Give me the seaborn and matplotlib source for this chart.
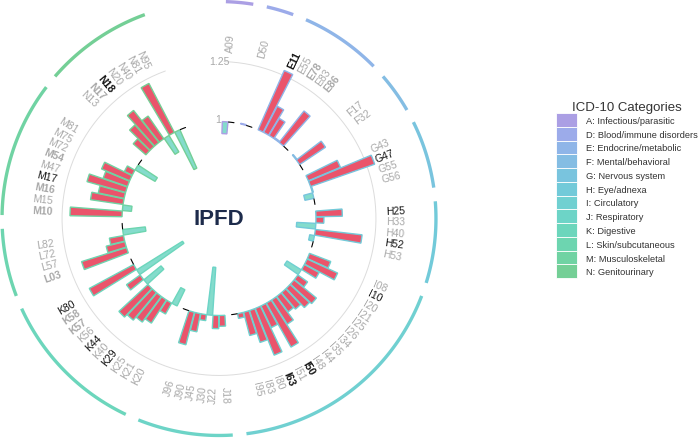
import numpy as np
import matplotlib
matplotlib.use("Agg")
import matplotlib.pyplot as plt
import seaborn as sns
from matplotlib.patches import Patch

sns.set_theme(style="white")
plt.rcParams['font.family'] = ['Liberation Sans', 'DejaVu Sans']

# ---------------- data ----------------
categories = ["A", "D", "E", "F", "G", "H", "I", "J", "K", "L", "M", "N"]
category_names = ["A: Infectious/parasitic", "D: Blood/immune disorders",
                  "E: Endocrine/metabolic", "F: Mental/behavioral",
                  "G: Nervous system", "H: Eye/adnexa", "I: Circulatory",
                  "J: Respiratory", "K: Digestive", "L: Skin/subcutaneous",
                  "M: Musculoskeletal", "N: Genitourinary"]
category_colors = ["#ab9fe4", "#9cabea", "#8fb5e8", "#84bde3", "#79c4de",
                   "#72cad9", "#70d0d1", "#6dd4c7", "#6cd6bc", "#6dd5b0",
                   "#70d3a3", "#74cf96"]

codes = ["A09", "D50",
         "E11", "E55", "E78", "E83", "E86",
         "F17", "F32",
         "G43", "G47", "G55", "G56",
         "H25", "H33", "H40", "H52", "H53",
         "I08", "I10", "I20", "I21", "I25", "I26", "I34", "I35", "I44", "I48",
         "I50", "I51", "I63", "I80", "I83", "I95",
         "J18", "J22", "J30", "J45", "J90", "J96",
         "K20", "K21", "K25", "K29", "K40", "K44", "K56", "K57", "K58", "K80",
         "L03", "L57", "L72", "L82",
         "M10", "M15", "M16", "M17", "M47", "M54", "M72", "M75", "M81",
         "N13", "N17", "N18", "N20", "N40", "N81", "N95"]
values = [0.95, 1.003,
          1.27, 1.123, 1.083, 1.005, 1.167,
          1.004, 1.13,
          1.145, 1.283, 1.004, 0.962,
          1.11, 1.033, 0.92, 1.196, 0.98,
          1.095, 1.14, 1.07, 0.93, 1.05, 1.12, 1.11, 1.09, 1.08, 1.12,
          1.21, 1.10, 1.21, 1.14, 1.10, 1.02,
          1.045, 1.055, 0.80, 1.025, 1.077, 1.14,
          0.925, 1.052, 1.115, 1.133, 1.15, 1.165, 0.908, 1.07, 0.775, 1.21,
          1.196, 1.08, 1.06, 0.905,
          1.217, 0.962, 1.137, 1.11, 1.167, 1.107, 1.127, 1.036, 0.904,
          1.07, 1.12, 1.17, 1.115, 0.92, 1.23, 0.825]
# label emphasis: 0 grey, 1 grey bold, 2 black, 3 black bold
emphasis = [0, 0,
            3, 0, 1, 0, 1,
            0, 0,
            0, 2, 0, 0,
            2, 0, 0, 2, 0,
            0, 2, 0, 0, 0, 0, 0, 0, 0, 0,
            3, 0, 3, 0, 0, 0,
            0, 0, 0, 0, 0, 0,
            0, 0, 0, 2, 0, 2, 0, 1, 1, 2,
            1, 0, 0, 0,
            1, 0, 1, 2, 0, 1, 0, 0, 0,
            0, 1, 3, 0, 0, 0, 0]

code_cat = [c[0] for c in codes]

# ---------------- layout ----------------
n_slots = 99
step = 2 * np.pi / n_slots
slots = []
s = 1
prev = None
for c in code_cat:
    if prev is not None and c != prev:
        s += 2
    slots.append(s)
    s += 1
    prev = c
slots = np.array(slots)
theta = slots * step
vals = np.array(values)

cat_color = dict(zip(categories, category_colors))
RED = "#ea546b"
TEAL = "#84dccc"

fig = plt.figure(figsize=(7, 4.39), dpi=100)
ax = fig.add_axes([0, 0.5 / 439, 438 / 700, 438 / 439], projection="polar")
ax.set_theta_zero_location("N")
ax.set_theta_direction(-1)
vmin = 0.596
vmax = vmin + 219 / 240
ax.set_ylim(vmin, vmax)
ax.set_axis_off()

# grid circle at 1.25
tg = np.linspace(0.5 * step, 93.5 * step, 400)
ax.plot(tg, np.full_like(tg, 1.25), color="#dcdcdc", lw=0.7, zorder=1)

# bars
fills = [RED if v >= 1 else TEAL for v in vals]
edges = [cat_color[c] for c in code_cat]
ax.bar(theta, vals - 1, bottom=1, width=step * 0.92, color=fills,
       edgecolor=edges, linewidth=1.0, zorder=3)

# group decorations
for cat in categories:
    idx = [i for i, c in enumerate(code_cat) if c == cat]
    first, last = slots[idx[0]], slots[idx[-1]]
    ta = np.linspace((first - 0.5) * step, (last + 1.5) * step, 80)
    ax.plot(ta, np.full_like(ta, 1.5), color=cat_color[cat], lw=2.4,
            solid_capstyle="butt", clip_on=False, zorder=2)
    tb = np.linspace((last + 0.55) * step, (last + 1.45) * step, 10)
    ax.plot(tb, np.full_like(tb, 1.0), color="black", lw=0.8, zorder=4)

# labels
for t, code, e in zip(theta, codes, emphasis):
    deg = np.degrees(t)
    if deg <= 180:
        rot, ha = 90 - deg, "left"
    else:
        rot, ha = 270 - deg, "right"
    col = "#111111" if e >= 2 else "#a8a8a8"
    wt = "bold" if e in (1, 3) else "normal"
    ax.text(t, 1.292, code, rotation=rot, rotation_mode="anchor", ha=ha,
            va="center", fontsize=7.5, color=col, fontweight=wt, zorder=5)

# radial tick labels
ax.text(np.radians(4.0), 1.255, "1.25", ha="right", va="center",
        fontsize=7.5, color="#a8a8a8")
ax.text(np.radians(1.2), 1.01, "1", ha="right", va="center",
        fontsize=7.5, color="#a8a8a8")

# centre title
ax.text(0, vmin, "IPFD", ha="center", va="center", fontsize=16,
        fontweight="bold", color="#1d2b4b")

# legend
handles = [Patch(facecolor=c, edgecolor="white", linewidth=0.6)
           for c in category_colors]
leg = fig.legend(handles, category_names, loc="upper left",
                 bbox_to_anchor=(556 / 700, 1 - 102 / 439),
                 title="ICD-10 Categories", frameon=False, fontsize=6.7,
                 title_fontsize=9.5, handlelength=2.3, handleheight=1.9,
                 labelspacing=0, handletextpad=0.9, borderpad=0,
                 borderaxespad=0)
leg.get_title().set_color("#333333")
for txt in leg.get_texts():
    txt.set_color("#333333")

fig.savefig("out.png", dpi=100)
